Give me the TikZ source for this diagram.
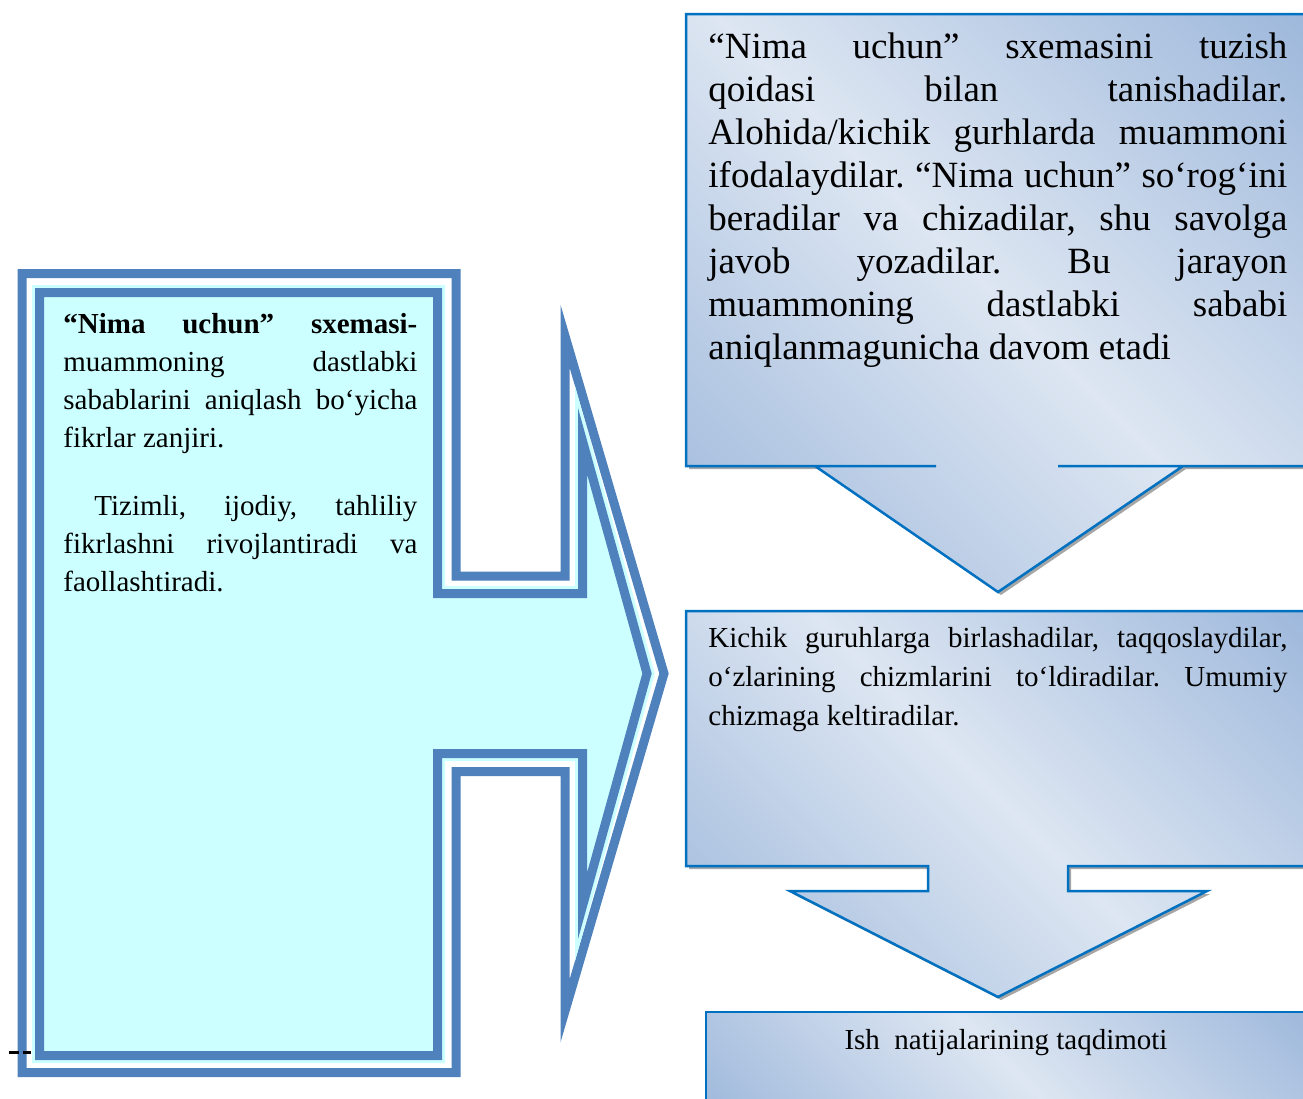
\documentclass[tikz,border=0pt]{standalone}
\usepackage{fontspec}
\setmainfont{Liberation Serif}
\usetikzlibrary{positioning}

\definecolor{frameblue}{HTML}{4F81BD}
\definecolor{palecyan}{HTML}{CCFFFF}
\definecolor{edgeblue}{HTML}{0070C0}
\definecolor{graddark}{HTML}{94B1D8}
\definecolor{gradlight}{HTML}{DDE6F2}
\pgfdeclareverticalshading{calloutfill}{100bp}{color(0bp)=(graddark); color(10bp)=(graddark);
    color(50bp)=(gradlight); color(90bp)=(graddark); color(100bp)=(graddark)}

\begin{document}
\frenchspacing
\begin{tikzpicture}[
    x=0.5pt, y=-0.5pt,
    frameline/.style={draw=frameblue, line width=4.5pt, line join=miter},
    halo/.style={draw=palecyan, line width=7.5pt, line join=miter},
    callout/.style={draw=edgeblue, line width=1.25pt, line join=miter, shading=calloutfill, shading angle=-45,
        preaction={fill=black!35, transform canvas={xshift=1.5pt, yshift=-1.5pt}}},
    bodytext/.style={inner sep=0pt, anchor=base west, align=justify},
]
    \useasboundingbox (0,0) rectangle (1303,1099);
    \clip (0,0) rectangle (1303,1099);

    % Left arrow with double frame
    \path[frameline, fill=white] (22,273.5) -- (456,273.5) -- (456,576) -- (565,576) -- (565,336)
        -- (664,673.5) -- (565,1011) -- (565,771.5) -- (456,771.5) -- (456,1072.5) -- (22,1072.5) -- cycle;
    \path[halo, fill=palecyan] (39.5,292.5) -- (437.5,292.5) -- (437.5,593.5) -- (582.5,593.5) -- (582.5,441)
        -- (647,673.5) -- (582.5,906) -- (582.5,753.5) -- (437.5,753.5) -- (437.5,1055.5) -- (39.5,1055.5) -- cycle;
    \path[frameline] (39.5,292.5) -- (437.5,292.5) -- (437.5,593.5) -- (582.5,593.5) -- (582.5,441)
        -- (647,673.5) -- (582.5,906) -- (582.5,753.5) -- (437.5,753.5) -- (437.5,1055.5) -- (39.5,1055.5) -- cycle;

    \node[bodytext, text width=177pt] (schema) at (63,333) {\fontsize{14.5}{19.15}\selectfont
        \textbf{“Nima uchun” sxemasi-}\linebreak muammoning dastlabki\linebreak sabablarini aniqlash bo‘yicha\linebreak fikrlar zanjiri.\par
        \vspace{14.4pt}\hspace*{15.5pt}Tizimli, ijodiy, tahliliy\linebreak fikrlashni rivojlantiradi va\linebreak faollashtiradi.\par};

    \coordinate (tickA) at (9,1052.5);
    \coordinate (tickB) at (31,1052.5);
    \draw[line width=1.5pt, dash pattern=on 5pt off 2pt] (tickA) -- (tickB);

    % Right column of callouts
    \path[callout] (686,14) -- (1320,14) -- (1320,466) -- (1058,466) -- (1183,466) -- (998,592)
        -- (815,466) -- (936,466) -- (686,466) -- cycle;
    \path[callout] (686,611) -- (1320,611) -- (1320,866) -- (1068,866) -- (1068,891) -- (1207,891)
        -- (998,997) -- (790,891) -- (928,891) -- (928,866) -- (686,866) -- cycle;
    \path[callout] (706,1012) rectangle (1320,1130);

    \node[bodytext, text width=289.5pt] (rules) at (708,58) {\fontsize{18.5}{21.55}\selectfont
        “Nima uchun” sxemasini tuzish\linebreak qoidasi bilan tanishadilar.\linebreak Alohida/kichik gurhlarda muammoni\linebreak
        ifodalaydilar. “Nima uchun” so‘rog‘ini\linebreak beradilar va chizadilar, shu savolga\linebreak
        javob yozadilar. Bu jarayon\linebreak muammoning dastlabki sababi\linebreak aniqlanmagunicha davom etadi\par};
    \node[bodytext, text width=289.5pt] (groups) at (708,647) {\fontsize{14.5}{19.5}\selectfont
        Kichik guruhlarga birlashadilar, taqqoslaydilar,\linebreak o‘zlarining chizmlarini to‘ldiradilar. Umumiy\linebreak chizmaga keltiradilar.\par};
    \node[inner sep=0pt, anchor=base, font=\fontsize{14.5}{17}\selectfont] (result) at (1006,1049) {Ish\ \ natijalarining taqdimoti};
\end{tikzpicture}
\end{document}
